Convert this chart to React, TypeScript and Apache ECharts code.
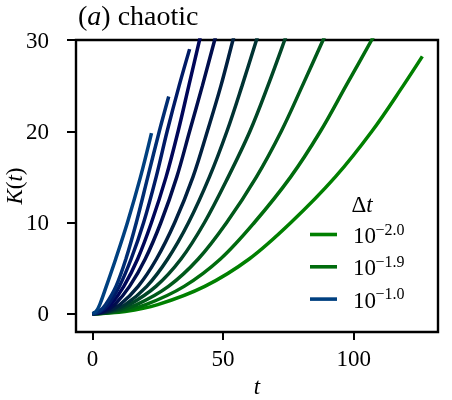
import React, { useEffect, useRef } from "react";
import * as echarts from "echarts";

// Δt = 10^exponent, one curve per exponent
const exponents = ["-2.0", "-1.9", "-1.8", "-1.7", "-1.6", "-1.5", "-1.4", "-1.3", "-1.2", "-1.1", "-1.0"];
const curveColors = ["#008000", "#006c0d", "#00591a", "#004626", "#003333", "#002040", "#000d4d", "#000659", "#001a66", "#002d73", "#004080"];

// [t, K(t)]
const curveM20 = [[0, 0], [12.5, 0.25], [25, 1], [43, 3], [60, 6], [76, 10], [93, 15], [107, 20], [119, 25], [126.3, 28.2]];
const curveM19 = [[0, 0], [10.2, 0.25], [20.4, 1], [35.1, 3], [49, 6], [62, 10], [75.9, 15], [87.3, 20], [97.1, 25], [106.9, 30], [112.5, 33]];
const curveM18 = [[0, 0], [8.5, 0.25], [16.9, 1], [29.1, 3], [40.5, 6], [51.4, 10], [62.8, 15], [72.3, 20], [80.4, 25], [88.3, 30], [92.8, 33]];
const curveM17 = [[0, 0], [7.1, 0.25], [14.1, 1], [24.3, 3], [33.9, 6], [42.9, 10], [52, 15], [60.3, 20], [67.2, 25], [73.6, 30], [77.3, 33]];
const curveM16 = [[0, 0], [6.2, 0.25], [12.5, 1], [20.8, 3], [28.8, 6], [36.8, 10], [44.8, 15], [51.5, 20], [57.3, 25], [62.8, 30], [66, 33]];
const curveM15 = [[0, 0], [5.3, 0.25], [10.5, 1], [17.5, 3], [24.5, 6], [31.5, 10], [38.5, 15], [44, 20], [49.2, 25], [53.8, 30], [56.6, 33]];
const curveM14 = [[0, 0], [4.3, 0.25], [8.5, 1], [14.2, 3], [20.2, 6], [26.2, 10], [32.3, 15], [37.2, 20], [42.1, 25], [46.8, 30], [49.6, 33]];
const curveM13 = [[0, 0], [3.5, 0.25], [7, 1], [12, 3], [17.3, 6], [22.6, 10], [28.2, 15], [32.8, 20], [36.9, 25], [41, 30], [43.5, 33]];
const curveM12 = [[0, 0], [3, 0.25], [6, 1], [10.3, 3], [14.8, 6], [19.6, 10], [24.4, 15], [28.6, 20], [33.2, 25], [37.2, 29]];
const curveM11 = [[0, 0], [2.5, 0.25], [5, 1], [9, 3], [12.8, 6], [16.8, 10], [21.2, 15], [25.6, 20], [29.2, 23.8]];
const curveM10 = [[0, 0], [1.4, 0.25], [2.8, 1], [5.3, 3], [8.9, 6], [13.4, 10], [18.4, 15], [22.6, 19.8]];
const curves = [curveM20, curveM19, curveM18, curveM17, curveM16, curveM15, curveM14, curveM13, curveM12, curveM11, curveM10];

const legendIndices = [0, 1, 10];
const xTicks = [0, 50, 100];
const yTicks = [0, 10, 20, 30];

const FONT = "Liberation Serif";

export default function App() {
  const ref = useRef<HTMLDivElement>(null);
  useEffect(() => {
    if (!ref.current) return;
    const chart = echarts.init(ref.current, undefined, { renderer: "svg" });

    const series = curves.map((c, i) => ({
      type: "line",
      name: "10^" + exponents[i],
      data: c,
      showSymbol: false,
      symbol: "none",
      smooth: 0.35,
      clip: true,
      lineStyle: { color: curveColors[i], width: 3.5, cap: "butt" },
      itemStyle: { color: curveColors[i] },
      z: 2 + i,
    }));

    const legendGraphics: any[] = [
      {
        type: "text",
        x: 351.5,
        y: 204,
        style: {
          text: "{n|Δ}{i|t}",
          verticalAlign: "middle",
          rich: {
            n: { fontFamily: FONT, fontSize: 23, fill: "#000" },
            i: { fontFamily: FONT, fontSize: 23, fontStyle: "italic", fill: "#000" },
          },
        },
      },
    ];
    legendIndices.forEach((idx, r) => {
      const y = 234.5 + r * 32.3;
      legendGraphics.push({
        type: "line",
        shape: { x1: 310, y1: y, x2: 337, y2: y },
        style: { stroke: curveColors[idx], lineWidth: 3.6 },
      });
      legendGraphics.push({
        type: "text",
        x: 353,
        y: y + 1,
        style: { text: "10", fontFamily: FONT, fontSize: 23, fill: "#000", verticalAlign: "middle" },
      });
      legendGraphics.push({
        type: "text",
        x: 375.5,
        y: y - 5.5,
        style: {
          text: exponents[idx].replace("-", "\u2212"),
          fontFamily: FONT,
          fontSize: 16,
          fill: "#000",
          verticalAlign: "middle",
        },
      });
    });

    chart.setOption({
      animation: false,
      textStyle: { fontFamily: FONT },
      grid: {
        left: 76,
        right: 14,
        top: 40,
        bottom: 68,
        containLabel: false,
        outerBoundsMode: "none",
        show: true,
        borderColor: "#000",
        borderWidth: 2.4,
        backgroundColor: "transparent",
      },
      xAxis: {
        type: "value",
        min: -6.3,
        max: 132.3,
        name: "{i|t}",
        nameLocation: "middle",
        nameGap: 46,
        nameTextStyle: {
          rich: { i: { fontFamily: FONT, fontSize: 23, fontStyle: "italic", color: "#000", lineHeight: 16 } },
        },
        axisLine: { show: false, onZero: false },
        axisTick: { show: true, length: 8, lineStyle: { color: "#000", width: 2 }, customValues: xTicks },
        axisLabel: { customValues: xTicks, fontFamily: FONT, fontSize: 23, color: "#000", margin: 15 },
        splitLine: { show: false },
      },
      yAxis: {
        type: "value",
        min: -2,
        max: 30,
        axisLine: { show: false, onZero: false },
        axisTick: { show: true, length: 9, lineStyle: { color: "#000", width: 2 }, customValues: yTicks },
        axisLabel: { customValues: yTicks, fontFamily: FONT, fontSize: 23, color: "#000", margin: 27 },
        splitLine: { show: false },
      },
      graphic: [
        {
          type: "text",
          x: 78,
          y: 15,
          style: {
            text: "{n|(}{i|a}{n|) chaotic}",
            verticalAlign: "middle",
            rich: {
              n: { fontFamily: FONT, fontSize: 28, fill: "#000" },
              i: { fontFamily: FONT, fontSize: 28, fontStyle: "italic", fill: "#000" },
            },
          },
        },
        {
          type: "text",
          x: 14,
          y: 186,
          rotation: Math.PI / 2,
          style: {
            text: "{i|K}{n|(}{i|t}{n|)}",
            align: "center",
            verticalAlign: "middle",
            rich: {
              i: { fontFamily: FONT, fontSize: 23, fontStyle: "italic", fill: "#000" },
              n: { fontFamily: FONT, fontSize: 23, fill: "#000" },
            },
          },
        },
        ...legendGraphics,
      ],
      series,
    });
    return () => chart.dispose();
  }, []);
  return <div ref={ref} style={{ position: "fixed", left: 0, top: 0, width: 452, height: 400 }} />;
}
